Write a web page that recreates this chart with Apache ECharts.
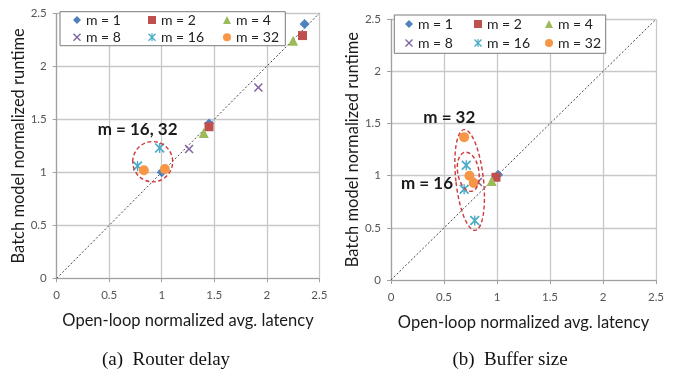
<!DOCTYPE html>
<html>
<head>
<meta charset="utf-8">
<script src="https://cdn.jsdelivr.net/npm/echarts@6/dist/echarts.min.js"></script>
<style>
  html, body { margin: 0; padding: 0; background: #fff; }
  #chart { width: 675px; height: 371px; }
</style>
</head>
<body>
<div id="chart"></div>
<script>
// Series labels
const seriesNames = ['m = 1', 'm = 2', 'm = 4', 'm = 8', 'm = 16', 'm = 32'];
const axisTicks = [0, 0.5, 1, 1.5, 2, 2.5];

// (a) Router delay: [open-loop normalized latency, batch normalized runtime]
const routerM1 = [[1.00, 1.00], [1.45, 1.46], [2.36, 2.40]];
const routerM2 = [[1.45, 1.43], [2.34, 2.29]];
const routerM4 = [[1.40, 1.37], [2.25, 2.24]];
const routerM8 = [[1.26, 1.22], [1.92, 1.80]];
const routerM16 = [[0.77, 1.06], [0.98, 1.23]];
const routerM32 = [[0.83, 1.02], [1.03, 1.03]];

// (b) Buffer size
const bufferM1 = [[1.01, 1.01]];
const bufferM2 = [[0.99, 0.985]];
const bufferM4 = [[0.95, 0.95]];
const bufferM8 = [[0.82, 0.94]];
const bufferM16 = [[0.71, 1.10], [0.69, 0.87], [0.79, 0.57]];
const bufferM32 = [[0.69, 1.37], [0.74, 1.00], [0.78, 0.93]];

// y = x reference line
const identityLine = [[0, 0], [2.5, 2.5]];

// Callouts (data units): ellipse center, radii, tilt
const routerCallout = { cx: 0.914, cy: 1.10, rx: 0.19, ry: 0.19, tilt: 0 };
const bufferInner = { cx: 0.729, cy: 1.038, rx: 0.10, ry: 0.19, tilt: 0.17 };
const bufferOuter = { cx: 0.742, cy: 0.959, rx: 0.13, ry: 0.486, tilt: 0.11 };
const routerNote = { text: 'm = 16, 32', x: 0.77, y: 1.40 };
const bufferNote32 = { text: 'm = 32', x: 0.55, y: 1.56 };
const bufferNote16 = { text: 'm = 16', x: 0.34, y: 0.93 };

const palette = ['#4F81BD', '#C0504D', '#9BBB59', '#8064A2', '#4BACC6', '#F79646'];
const xMark = 'path://M1.2,0 L5,3.8 L8.8,0 L10,1.2 L6.2,5 L10,8.8 L8.8,10 L5,6.2 L1.2,10 L0,8.8 L3.8,5 L0,1.2 Z';
const starMark = 'path://M1.2,0 L5,3.8 L8.8,0 L10,1.2 L6.2,5 L10,8.8 L8.8,10 L5,6.2 L1.2,10 L0,8.8 L3.8,5 L0,1.2 Z M4.3,0 L5.7,0 L5.7,10 L4.3,10 Z';
const symbols = ['diamond', 'rect', 'triangle', xMark, starMark, 'circle'];
const symbolSizes = [10, 9, 10, 9, 10, 10];

const FONT = 'Lato, "Open Sans", sans-serif';

const grids = [
  { left: 56.7, right: 355.7, top: 13.3, bottom: 92.7 },
  { left: 391, right: 19, top: 19.3, bottom: 91 }
];

function makeAxis(kind, gi) {
  const isX = kind === 'x';
  return {
    type: 'value', gridIndex: gi, min: 0, max: 2.5, interval: 0.5,
    name: isX ? 'Open-loop normalized avg. latency' : 'Batch model normalized runtime',
    nameLocation: 'middle',
    nameGap: isX ? 34 : 27,
    nameTextStyle: { fontFamily: FONT, fontSize: 16.5, color: '#1a1a1a' },
    axisLine: { show: true, onZero: false, lineStyle: { color: '#a0a0a0', width: 1.2 } },
    axisTick: { show: true, length: 4, inside: false, lineStyle: { color: '#a0a0a0' } },
    axisLabel: {
      fontFamily: FONT, fontSize: 11.5, color: '#555',
      margin: isX ? 11 : 10,
      formatter: v => String(axisTicks.find(t => Math.abs(t - v) < 1e-9) ?? v)
    },
    splitLine: { show: true, lineStyle: { color: '#c8c8c8', width: 1.3 } }
  };
}

const routerData = [routerM1, routerM2, routerM4, routerM8, routerM16, routerM32];
const bufferData = [bufferM1, bufferM2, bufferM4, bufferM8, bufferM16, bufferM32];

const series = [];
[routerData, bufferData].forEach((set, gi) => {
  series.push({
    type: 'line', xAxisIndex: gi, yAxisIndex: gi, data: identityLine,
    symbol: 'none', silent: true, z: 1,
    lineStyle: { color: '#444', width: 1, type: [2, 2] }
  });
  set.forEach((pts, i) => {
    series.push({
      name: seriesNames[i], type: 'scatter', xAxisIndex: gi, yAxisIndex: gi,
      data: pts, symbol: symbols[i], symbolSize: symbolSizes[i], z: 3,
      itemStyle: { color: palette[i], opacity: 1 }
    });
  });
});

// Legend columns: [left, top] per column, two rows each
function legendCols(starts, top, gap) {
  return starts.map((left, c) => ({
    orient: 'vertical', left: left, top: top, padding: 0,
    itemGap: gap, itemWidth: 8, itemHeight: 8,
    data: [seriesNames[c], seriesNames[c + 3]],
    textStyle: { fontFamily: FONT, fontSize: 14, color: '#222', padding: [0, 0, 0, 0] },
    selectedMode: false, z: 6
  }));
}
const legends = [
  ...legendCols([73, 148, 223], 13, 3.3),
  ...legendCols([405, 474, 545], 17, 5)
];

const chart = echarts.init(document.getElementById('chart'), null, { renderer: 'canvas' });

const captionFont = '19px "Liberation Serif", "Times New Roman", serif';
const baseGraphic = [
  { type: 'rect', shape: { x: 60, y: 11.7, width: 225.3, height: 34 }, z: 5,
    style: { fill: '#fff', stroke: '#7a7a7a', lineWidth: 1 } },
  { type: 'rect', shape: { x: 394.3, y: 15, width: 211.4, height: 38.3 }, z: 5,
    style: { fill: '#fff', stroke: '#7a7a7a', lineWidth: 1 } },
  { type: 'text', x: 166, y: 360, z: 5,
    style: { text: '(a)  Router delay', font: captionFont,
      fill: '#111', align: 'center', verticalAlign: 'middle' } },
  { type: 'text', x: 510, y: 360, z: 5,
    style: { text: '(b)  Buffer size', font: captionFont,
      fill: '#111', align: 'center', verticalAlign: 'middle' } }
];

chart.setOption({
  animation: false,
  grid: grids,
  xAxis: [makeAxis('x', 0), makeAxis('x', 1)],
  yAxis: [makeAxis('y', 0), makeAxis('y', 1)],
  legend: legends,
  series: series,
  graphic: baseGraphic
});

// Callouts placed through the axes' own coordinate conversion
function ellipseFor(gi, e) {
  const c = chart.convertToPixel({ gridIndex: gi }, [e.cx, e.cy]);
  const o = chart.convertToPixel({ gridIndex: gi }, [e.cx + e.rx, e.cy + e.ry]);
  return {
    type: 'ellipse', x: c[0], y: c[1], rotation: e.tilt, z: 4,
    shape: { cx: 0, cy: 0, rx: Math.abs(o[0] - c[0]), ry: Math.abs(o[1] - c[1]) },
    style: { fill: 'none', stroke: '#D0393B', lineWidth: 1.4, lineDash: [4, 2.5] }
  };
}
function noteFor(gi, n) {
  const p = chart.convertToPixel({ gridIndex: gi }, [n.x, n.y]);
  return {
    type: 'text', x: p[0], y: p[1], z: 5,
    style: { text: n.text, font: 'bold 17px ' + FONT, fill: '#1a1a1a',
      align: 'center', verticalAlign: 'middle' }
  };
}

chart.setOption({
  graphic: baseGraphic.concat([
    ellipseFor(0, routerCallout),
    ellipseFor(1, bufferInner),
    ellipseFor(1, bufferOuter),
    noteFor(0, routerNote),
    noteFor(1, bufferNote32),
    noteFor(1, bufferNote16)
  ])
}, { replaceMerge: ['graphic'] });
</script>
</body>
</html>
